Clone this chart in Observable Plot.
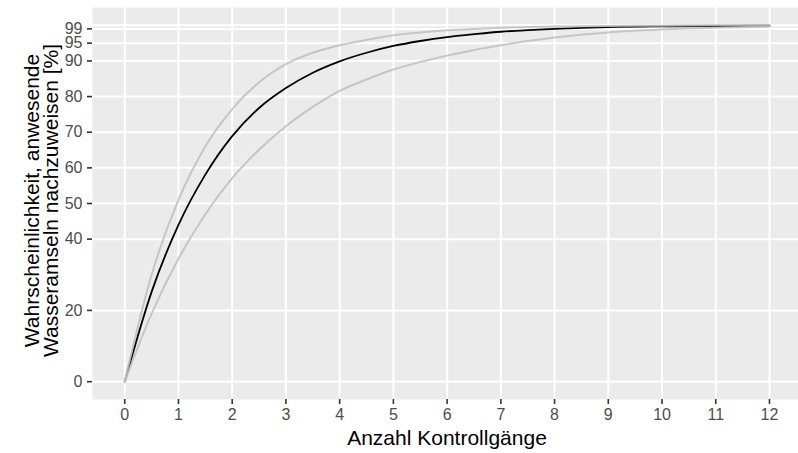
<!DOCTYPE html>
<html>
<head>
<meta charset="utf-8">
<script src="https://cdn.jsdelivr.net/npm/d3@7"></script>
<script src="https://cdn.jsdelivr.net/npm/@observablehq/plot@0.6"></script>
<style>
  html, body { margin: 0; padding: 0; background: white; }
  #chart svg { display: block; }
  #chart svg [aria-label$="tick label"] { font-size: 16px; }
</style>
</head>
<body>
<div id="chart"></div>
<script>
// Number of control visits (x) and detection probability in % (y)
const visits    = [0, 0.5, 1, 1.5, 2, 2.5, 3, 3.5, 4, 4.5, 5, 5.5, 6, 6.5, 7, 7.5, 8, 9, 10, 11, 12];
const probMean  = [0, 25.2, 44.0, 58.1, 68.9, 76.8, 82.4, 86.7, 89.9, 92.3, 94.2, 95.6, 96.7, 97.5, 98.2, 98.65, 99.0, 99.5, 99.7, 99.8, 99.9];
const probUpper = [0, 30.0, 51.0, 66.0, 76.5, 84.0, 89.1, 92.3, 94.4, 95.9, 97.2, 98.0, 98.6, 99.0, 99.3, 99.5, 99.7, 99.8, 99.9, 100.0, 100.0];
const probLower = [0, 19.1, 34.5, 47.0, 57.1, 65.1, 71.7, 77.1, 81.6, 84.8, 87.6, 89.7, 91.5, 93.1, 94.4, 95.6, 96.6, 98.0, 98.8, 99.3, 99.6];

const xTicks = [0, 1, 2, 3, 4, 5, 6, 7, 8, 9, 10, 11, 12];
const yTicks = [0, 20, 40, 50, 60, 70, 80, 90, 95, 99];
const yGrid = [0, 20, 40, 50, 60, 70, 80, 90, 95, 99, 100];

const xTitle = "Anzahl Kontrollgänge";
const yTitle = "Wahrscheinlichkeit, anwesende\nWasseramseln nachzuweisen [%]";

const toRows = (ys) => visits.map((v, i) => ({x: v, y: ys[i]}));

const chart = Plot.plot({
  width: 798,
  height: 453,
  marginLeft: 92,
  marginRight: 0,
  marginTop: 7,
  marginBottom: 54,
  style: {fontFamily: "'Liberation Sans', Arial, sans-serif", fontSize: "16px", background: "white"},
  x: {domain: [-0.6, 12.54]},
  y: {domain: [-5, 105]},
  marks: [
    Plot.frame({fill: "#EBEBEB", stroke: null}),
    Plot.ruleX(xTicks, {stroke: "white", strokeWidth: 2}),
    Plot.ruleY(yGrid, {stroke: "white", strokeWidth: 2}),
    Plot.line(toRows(probMean), {x: "x", y: "y", stroke: "black", strokeWidth: 1.8, curve: "monotone-x"}),
    Plot.line(toRows(probUpper), {x: "x", y: "y", stroke: "#bebebe", strokeOpacity: 0.85, strokeWidth: 2, curve: "monotone-x"}),
    Plot.line(toRows(probLower), {x: "x", y: "y", stroke: "#bebebe", strokeOpacity: 0.85, strokeWidth: 2, curve: "monotone-x"}),
    Plot.axisX(xTicks, {tickSize: 5, tickPadding: 4, stroke: "#333", strokeWidth: 1.6, fill: "#4D4D4D", fontSize: 16, label: null}),
    Plot.axisY(yTicks, {tickSize: 5, tickPadding: 5, stroke: "#333", strokeWidth: 1.6, fill: "#4D4D4D", fontSize: 16, label: null}),
    Plot.text([xTitle], {frameAnchor: "bottom", textAnchor: "middle", lineAnchor: "middle", dx: 1.5, dy: 39, fontSize: 21, fill: "black", text: d => d}),
    Plot.text([yTitle], {frameAnchor: "left", textAnchor: "middle", lineAnchor: "middle", rotate: -90, dx: -50.5, dy: -3, lineHeight: 0.9, fontSize: 21, fill: "black", text: d => d})
  ]
});
document.getElementById("chart").appendChild(chart);
</script>
</body>
</html>
